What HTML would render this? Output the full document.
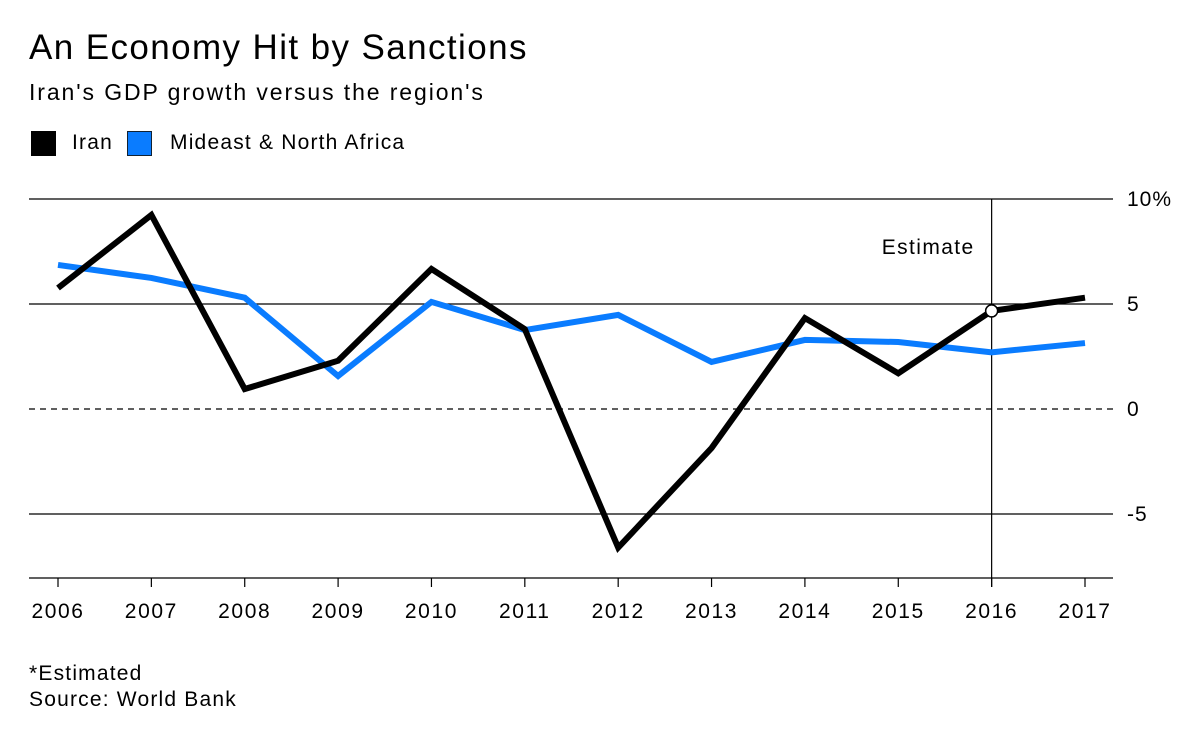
<!DOCTYPE html>
<html><head><meta charset="utf-8">
<style>
body{margin:0;width:1200px;height:736px;background:#fff;font-family:"Liberation Sans",sans-serif;color:#000;overflow:hidden;position:relative}
.t{position:absolute;white-space:nowrap}
</style></head><body>
<div class="t" style="left:29px;top:28px;font-size:35px;letter-spacing:1.4px">An Economy Hit by Sanctions</div>
<div class="t" style="left:29px;top:79px;font-size:23px;letter-spacing:1.9px">Iran's GDP growth versus the region's</div>
<div>
<div class="t" style="left:31px;top:131px;width:25px;height:25px;background:#000"></div>
<div class="t" style="left:72px;top:131px;font-size:21px;letter-spacing:1.2px">Iran</div>
<div class="t" style="left:127px;top:131px;width:23px;height:23px;background:#0a7cff;border:1px solid #123"></div>
<div class="t" style="left:170px;top:131px;font-size:21px;letter-spacing:1.2px">Mideast &amp; North Africa</div>
</div>
<svg id="chart" width="1200" height="736" style="position:absolute;left:0;top:0"></svg>
<div class="t" style="left:29px;top:662px;font-size:21px;letter-spacing:1.2px">*Estimated</div>
<div class="t" style="left:29px;top:688px;font-size:21px;letter-spacing:1.2px">Source: World Bank</div>
<script>
const years=['2006','2007','2008','2009','2010','2011','2012','2013','2014','2015','2016','2017'];
const iran=[5.76,9.24,0.95,2.3,6.67,3.8,-6.6,-1.86,4.33,1.7,4.67,5.3];
const mena=[6.86,6.24,5.3,1.57,5.1,3.76,4.48,2.24,3.29,3.19,2.7,3.14];
const yTicks=[10,5,0,-5];
const yTickLabels=['10%','5','0','-5'];
const estimateIndex=10;
const NS='http://www.w3.org/2000/svg';
const svg=document.getElementById('chart');
const x0=58,x1=1085,L=29,R=1113,axisY=578;
const xs=i=>x0+(x1-x0)*i/(years.length-1);
const ys=v=>409-21*v;
function mk(t,a){const e=document.createElementNS(NS,t);for(const k in a)e.setAttribute(k,a[k]);svg.appendChild(e);return e;}
yTicks.forEach((v,i)=>{
  const g=mk('line',{x1:L,x2:R,y1:ys(v),y2:ys(v),stroke:'#000','stroke-width':1.2,'stroke-dasharray':v===0?'6,5':'none'});
  
  
  const t=mk('text',{x:1127,y:ys(v)+7,'font-size':21,'letter-spacing':1,'font-family':'Liberation Sans, sans-serif'});
  t.textContent=yTickLabels[i];
  
  
});
const ax=mk('line',{x1:L,x2:R,y1:axisY,y2:axisY,stroke:'#000','stroke-width':1.2});


years.forEach((y,i)=>{
  const tk=mk('line',{x1:xs(i),x2:xs(i),y1:axisY,y2:axisY+9,stroke:'#000','stroke-width':1.2});
  
  
  const t=mk('text',{x:xs(i),y:618,'font-size':21,'letter-spacing':1.6,'text-anchor':'middle','font-family':'Liberation Sans, sans-serif'});
  t.textContent=y;
  
  
});
const vl=mk('line',{x1:xs(estimateIndex),x2:xs(estimateIndex),y1:ys(10),y2:axisY+9,stroke:'#000','stroke-width':1.2});


const et=mk('text',{x:xs(estimateIndex)-17,y:254,'font-size':21,'letter-spacing':1.4,'text-anchor':'end','font-family':'Liberation Sans, sans-serif'});
et.textContent='Estimate';


function line(vals,color,name){
  const p=mk('polyline',{points:vals.map((v,i)=>xs(i)+','+ys(v)).join(' '),fill:'none',stroke:color,'stroke-width':6,'stroke-linejoin':'miter'});
  
  
}
line(mena,'#0a7cff','line-mena');
line(iran,'#000','line-iran');
const c=mk('circle',{cx:xs(estimateIndex),cy:ys(iran[estimateIndex]),r:6,fill:'#fff',stroke:'#000','stroke-width':1.5});


</script>
</body></html>
